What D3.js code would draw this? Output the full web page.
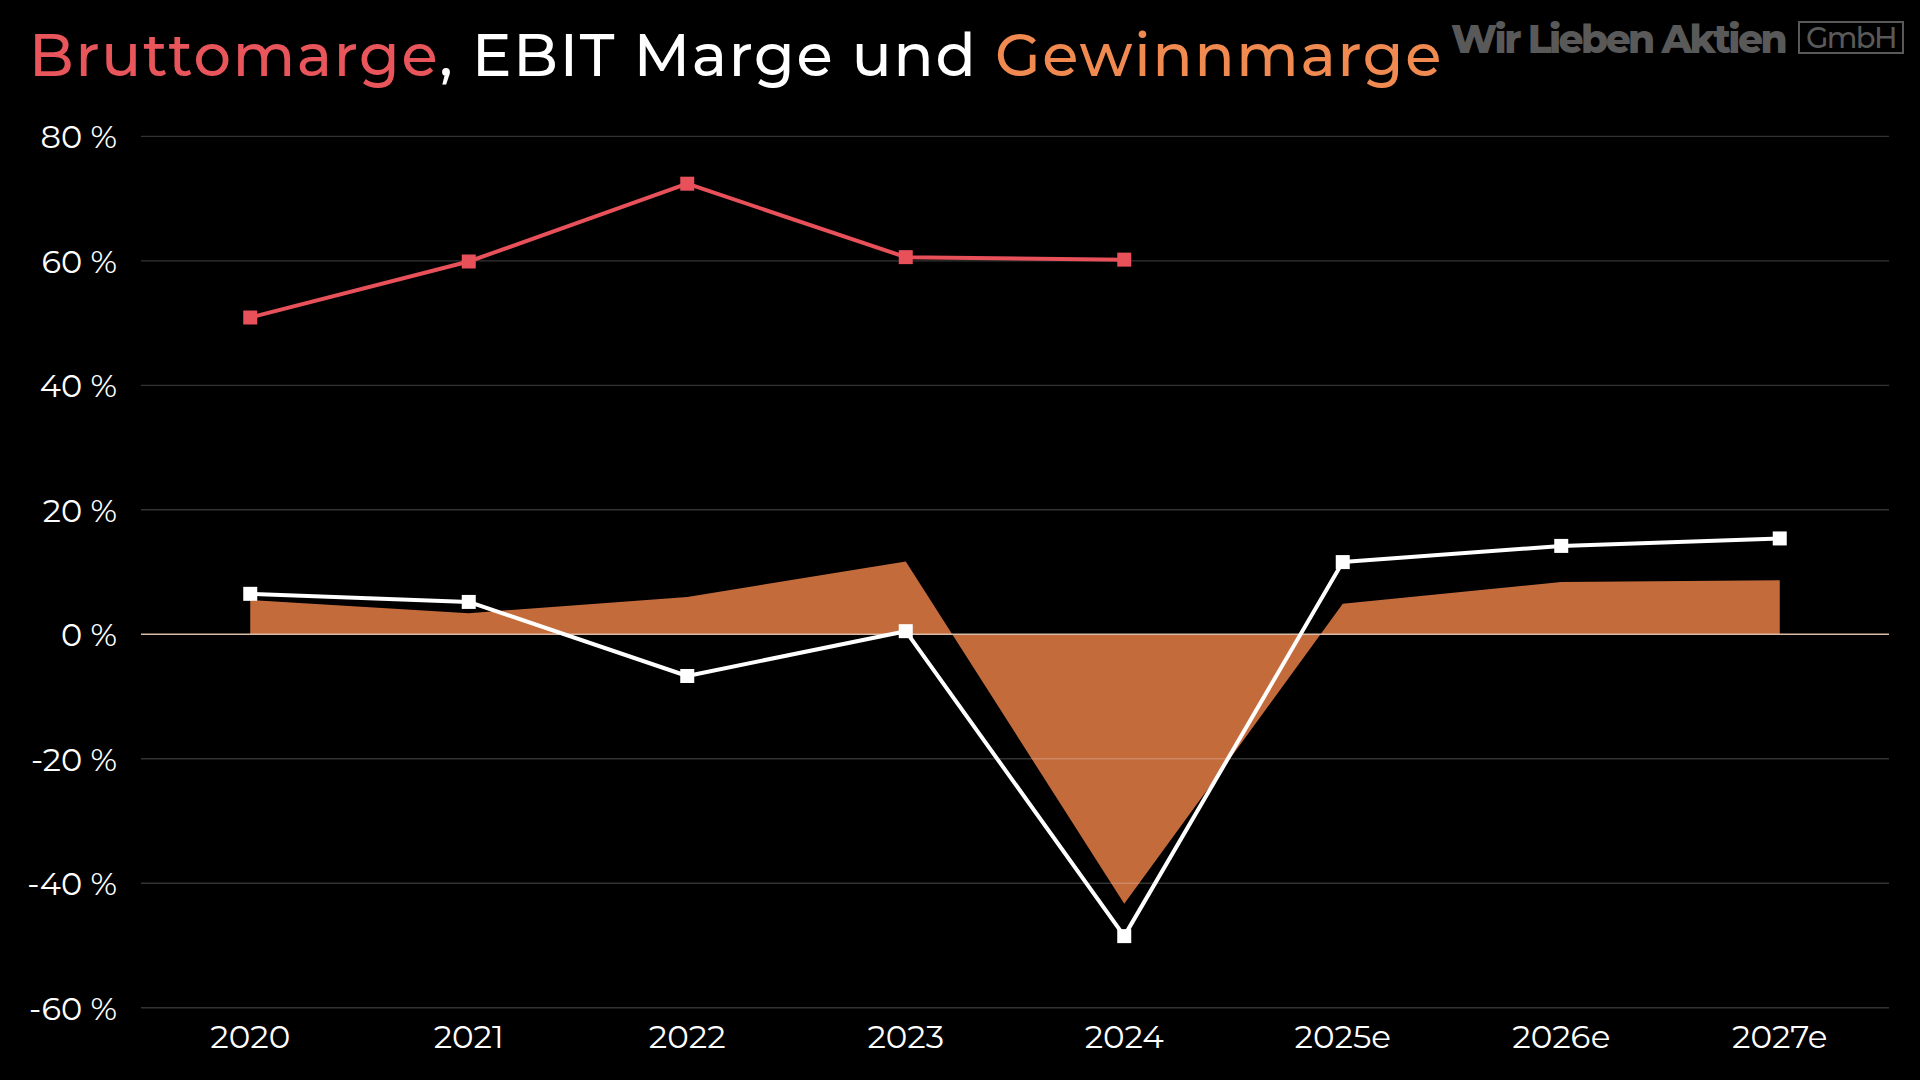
<!DOCTYPE html>
<html>
<head>
<meta charset="utf-8">
<script src="https://cdn.jsdelivr.net/npm/d3@7"></script>
<style>
  html, body { margin: 0; padding: 0; background: #000; }
  svg { display: block; }
  text { font-family: Montserrat, Inter, "Open Sans", sans-serif; }
</style>
</head>
<body>
<svg id="chart" width="1920" height="1080"></svg>
<script>
// ---- Data ----
const categories = ["2020", "2021", "2022", "2023", "2024", "2025e", "2026e", "2027e"];
const bruttomarge = [50.9, 59.9, 72.4, 60.6, 60.2, null, null, null];
const ebitMarge   = [6.5, 5.2, -6.7, 0.5, -48.5, 11.6, 14.2, 15.4];
const gewinnmarge = [5.5, 3.4, 6.0, 11.7, -43.3, 4.9, 8.4, 8.7];
const yTickValues = [-60, -40, -20, 0, 20, 40, 60, 80];
const titleParts = [
  { text: "Bruttomarge", color: "#E8555B" },
  { text: ", EBIT Marge und ", color: "#FFFFFF" },
  { text: "Gewinnmarge", color: "#F08A50" }
];

// ---- Layout ----
const plot = { left: 141, right: 1889, top: 136.4, bottom: 1007.7 };
const svg = d3.select("#chart");

const x = d3.scaleBand().domain(categories).range([plot.left, plot.right]).padding(0);
const cx = c => x(c) + x.bandwidth() / 2;
const y = d3.scaleLinear().domain([-60, 80]).range([plot.bottom, plot.top]);

function fitText(sel, target) {
  const node = sel.node();
  const w = node.getComputedTextLength();
  const n = node.textContent.length;
  sel.attr("letter-spacing", ((target - w) / n).toFixed(3));
}

// ---- Area (Gewinnmarge) ----
const area = d3.area()
  .x((d, i) => cx(categories[i]))
  .y0(y(0))
  .y1(d => y(d));
svg.append("path")
  .datum(gewinnmarge)
  .attr("d", area)
  .attr("fill", "#C46B3C");

// ---- Gridlines ----
const grid = svg.append("g");
grid.selectAll("line")
  .data(yTickValues)
  .join("line")
  .attr("x1", plot.left).attr("x2", plot.right)
  .attr("y1", d => y(d)).attr("y2", d => y(d))
  .attr("stroke", d => d === 0 ? "#D9BBA6" : "rgba(255,255,255,0.2)")
  .attr("stroke-width", d => d === 0 ? 1.6 : 1.4);

// ---- Y axis ----
const yAxis = d3.axisLeft(y)
  .tickValues(yTickValues)
  .tickFormat(d => d + " %")
  .tickSize(0)
  .tickPadding(0);
const yg = svg.append("g").attr("transform", "translate(117,0)").call(yAxis);
yg.select(".domain").remove();
yg.selectAll("text")
  .attr("fill", "#FFFFFF")
  .attr("font-size", 32)
  .attr("font-weight", 400)
  .attr("dy", "0.36em")
  .style("font-family", "Montserrat, Inter, 'Open Sans', sans-serif");

// ---- X axis ----
const xAxis = d3.axisBottom(x).tickSize(0).tickPadding(0);
const xg = svg.append("g").attr("transform", "translate(0,1048)").call(xAxis);
xg.select(".domain").remove();
xg.selectAll("text")
  .attr("fill", "#FFFFFF")
  .attr("font-size", 32.5)
  .attr("font-weight", 400)
  .attr("dy", 0)
  .attr("y", 0)
  .style("font-family", "Montserrat, Inter, 'Open Sans', sans-serif");

// ---- Lines ----
function drawSeries(values, color, width, msize) {
  const pts = values.map((v, i) => ({ c: categories[i], v })).filter(d => d.v !== null);
  const line = d3.line().x(d => cx(d.c)).y(d => y(d.v));
  svg.append("path")
    .datum(pts)
    .attr("d", line)
    .attr("fill", "none")
    .attr("stroke", color)
    .attr("stroke-width", width)
    .attr("stroke-linejoin", "round");
  svg.append("g").selectAll("rect")
    .data(pts)
    .join("rect")
    .attr("x", d => cx(d.c) - msize / 2)
    .attr("y", d => y(d.v) - msize / 2)
    .attr("width", msize)
    .attr("height", msize)
    .attr("fill", color);
}
drawSeries(bruttomarge, "#E8505A", 4, 14);
drawSeries(ebitMarge, "#FFFFFF", 4, 14);

// ---- Title ----
const title = svg.append("text")
  .attr("x", 29).attr("y", 76)
  .attr("font-size", 59)
  .attr("font-weight", 500);
title.selectAll("tspan")
  .data(titleParts)
  .join("tspan")
  .attr("fill", d => d.color)
  .attr("xml:space", "preserve")
  .style("white-space", "pre")
  .text(d => d.text);
fitText(title, 1414);

// ---- Watermark ----
const wm = svg.append("text")
  .attr("x", 1451).attr("y", 52.5)
  .attr("font-size", 39)
  .attr("font-weight", 800)
  .attr("fill", "#595959")
  .text("Wir Lieben Aktien");
fitText(wm, 334);

svg.append("rect")
  .attr("x", 1799).attr("y", 22)
  .attr("width", 104).attr("height", 31)
  .attr("fill", "none")
  .attr("stroke", "#595959")
  .attr("stroke-width", 2);
const gm = svg.append("text")
  .attr("x", 1806).attr("y", 48.3)
  .attr("font-size", 29)
  .attr("font-weight", 500)
  .attr("fill", "#595959")
  .text("GmbH");
fitText(gm, 90);
</script>
</body>
</html>
